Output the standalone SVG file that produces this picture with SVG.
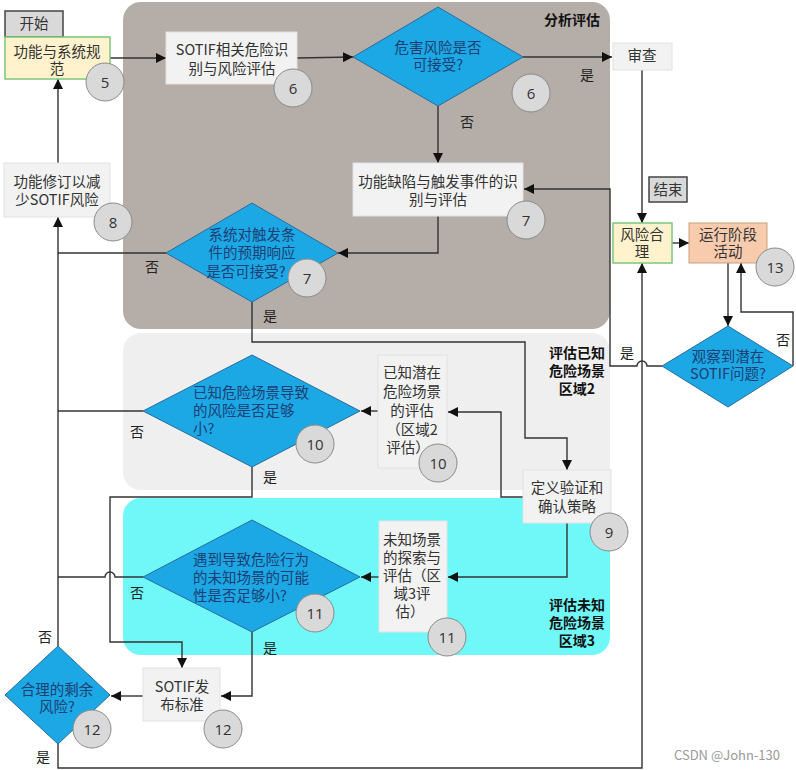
<svg xmlns="http://www.w3.org/2000/svg" width="796" height="770" viewBox="0 0 796 770">
<defs>
<marker id="ah" markerWidth="10" markerHeight="10" refX="10" refY="5" orient="auto" markerUnits="userSpaceOnUse">
<path d="M0,0 L10,5 L0,10 Z" fill="#111"/>
</marker>
<style>
text{font-family:"Noto Sans CJK SC","Liberation Sans",sans-serif;}
.t{font-size:14.5px;fill:#333;text-anchor:middle;}
.tl{font-size:14.5px;fill:#1f3e72;}
.td{font-size:14.5px;fill:#1f3e72;text-anchor:middle;}
.lab{font-size:14px;fill:#222;text-anchor:middle;}
.reg{font-size:14px;font-weight:bold;fill:#111;text-anchor:middle;}
.box{fill:#f2f2f2;stroke:#e2e2e2;stroke-width:1;}
.ybox{fill:#fff2cc;stroke:#7cc77c;stroke-width:1.5;}
.gbox{fill:#d9d9d9;stroke:#444;stroke-width:1.5;}
.dia{fill:#1ba8e5;stroke:#2a6c9c;stroke-width:1;}
.num circle{fill:#d9d9d9;stroke:#8a8a8a;stroke-width:1;}
.num text{font-family:"Open Sans","Liberation Sans",sans-serif;font-size:15px;fill:#333;text-anchor:middle;}
.c{fill:none;stroke:#333;stroke-width:1.4;}
.ca{fill:none;stroke:#333;stroke-width:1.4;marker-end:url(#ah);}
</style>
</defs>
<rect width="796" height="770" fill="#ffffff"/>

<!-- regions -->
<g id="region-analysis">
<rect x="123" y="2" width="487" height="327" rx="18" fill="#b5ada7"/>
<text class="reg" x="572" y="25">分析评估</text>
</g>
<g id="region-known">
<rect x="123" y="333" width="487" height="157" rx="18" fill="#efefef"/>
<text class="reg" x="577" y="358">评估已知</text>
<text class="reg" x="577" y="376">危险场景</text>
<text class="reg" x="577" y="394">区域2</text>
</g>
<g id="region-unknown">
<rect x="123" y="498" width="487" height="157" rx="18" fill="#70f8f8"/>
<text class="reg" x="577" y="610">评估未知</text>
<text class="reg" x="577" y="628">危险场景</text>
<text class="reg" x="577" y="646">区域3</text>
</g>

<!-- connectors -->
<g id="connectors">
<path class="ca" d="M110,58 H166"/>
<path class="ca" d="M297,58 L353,57"/>
<path class="ca" d="M523,57 H612"/>
<path class="ca" d="M438,106 V163"/>
<path class="ca" d="M438,216 V253 H338"/>
<path class="c" d="M166,253 H58"/>
<path class="ca" d="M58,646 V217"/>
<path class="ca" d="M58,163 V79"/>
<path class="ca" d="M252,302 V342 H525 V438 H567 V470"/>
<path class="ca" d="M662,366 H647 A5,5 0 0 0 637,366 H610 V189 H524"/>
<path class="ca" d="M642,70 V223"/>
<path class="ca" d="M672,243 H689"/>
<path class="ca" d="M728,263 V326"/>
<path class="ca" d="M793,366 V312 H741 V263"/>
<path class="ca" d="M58,744 V768 H642 V263"/>
<path class="ca" d="M523,497 H501 V412 H448"/>
<path class="ca" d="M378,411 H361"/>
<path class="c" d="M143,411 H58"/>
<path class="ca" d="M252,467 V497 H110 V642 H182 V668"/>
<path class="c" d="M143,577 H115 A5,5 0 0 0 105,577 H58"/>
<path class="ca" d="M567,523 V577 H448"/>
<path class="ca" d="M379,577 H361"/>
<path class="ca" d="M252,632 V696 H221"/>
<path class="ca" d="M143,696 H111"/>
<text class="lab" x="587" y="80">是</text>
<text class="lab" x="467" y="127">否</text>
<text class="lab" x="152" y="272">否</text>
<text class="lab" x="270" y="321">是</text>
<text class="lab" x="627" y="358">是</text>
<text class="lab" x="783" y="345">否</text>
<text class="lab" x="137" y="437">否</text>
<text class="lab" x="270" y="482">是</text>
<text class="lab" x="137" y="598">否</text>
<text class="lab" x="270" y="653">是</text>
<text class="lab" x="45" y="642">否</text>
<text class="lab" x="43" y="762">是</text>
</g>

<!-- nodes -->
<g id="start">
<rect class="gbox" x="5" y="11" width="58" height="26"/>
<text class="t" x="34" y="29">开始</text>
</g>
<g id="n5">
<rect class="ybox" x="5" y="37" width="105" height="42"/>
<text class="t" x="57" y="57">功能与系统规</text>
<text class="t" x="57" y="74">范</text>
<g class="num"><circle cx="105" cy="82" r="19"/><text x="105" y="87.5">5</text></g>
</g>
<g id="n6a">
<rect class="box" x="166" y="32" width="131" height="52"/>
<text class="t" x="232" y="55">SOTIF相关危险识</text>
<text class="t" x="232" y="74">别与风险评估</text>
<g class="num"><circle cx="293" cy="88" r="19"/><text x="293" y="93.5">6</text></g>
</g>
<g id="n6b">
<polygon class="dia" points="438,7 523,57 438,106 353,57"/>
<text class="td" x="438" y="53">危害风险是否</text>
<text class="td" x="438" y="70">可接受?</text>
<g class="num"><circle cx="531" cy="93" r="19"/><text x="531" y="98.5">6</text></g>
</g>
<g id="review">
<rect class="box" x="613" y="43" width="59" height="27"/>
<text class="t" x="642" y="61">审查</text>
</g>
<g id="n7a">
<rect class="box" x="353" y="163" width="170" height="53"/>
<text class="t" x="438" y="187">功能缺陷与触发事件的识</text>
<text class="t" x="438" y="205">别与评估</text>
<g class="num"><circle cx="526" cy="220" r="19"/><text x="526" y="225.5">7</text></g>
</g>
<g id="n7b">
<polygon class="dia" points="252,203 338,253 252,302 166,253"/>
<text class="td" x="252" y="240">系统对触发条</text>
<text class="td" x="252" y="258">件的预期响应</text>
<text class="td" x="246" y="277">是否可接受?</text>
<g class="num"><circle cx="307" cy="278" r="19"/><text x="307" y="283.5">7</text></g>
</g>
<g id="n8">
<rect class="box" x="4" y="163" width="106" height="54"/>
<text class="t" x="57" y="187">功能修订以减</text>
<text class="t" x="57" y="205">少SOTIF风险</text>
<g class="num"><circle cx="113" cy="222" r="19"/><text x="113" y="227.5">8</text></g>
</g>
<g id="end">
<rect class="gbox" x="649" y="177" width="38" height="25" stroke-width="2"/>
<text class="t" x="668" y="195">结束</text>
</g>
<g id="risk-ok">
<rect class="ybox" x="613" y="223" width="59" height="40"/>
<text class="t" x="642" y="240">风险合</text>
<text class="t" x="642" y="257">理</text>
</g>
<g id="n13">
<rect x="689" y="223" width="78" height="40" fill="#f8cbad" stroke="#c8a080" stroke-width="1"/>
<text class="t" x="728" y="240">运行阶段</text>
<text class="t" x="728" y="257">活动</text>
<g class="num"><circle cx="775" cy="267" r="19"/><text x="775" y="272.5">13</text></g>
</g>
<g id="observe">
<polygon class="dia" points="728,326 793,366 728,407 662,366"/>
<text class="td" x="728" y="362">观察到潜在</text>
<text class="td" x="728" y="379">SOTIF问题?</text>
</g>
<g id="n10a">
<rect class="box" x="378" y="355" width="69" height="113"/>
<text class="t" x="412" y="378">已知潜在</text>
<text class="t" x="412" y="397">危险场景</text>
<text class="t" x="412" y="416">的评估</text>
<text class="t" x="412" y="435">（区域2</text>
<text class="t" x="408" y="453">评估）</text>
<g class="num"><circle cx="438" cy="463" r="19"/><text x="438" y="468.5">10</text></g>
</g>
<g id="n10b">
<polygon class="dia" points="252,355 360,411 252,467 143,411"/>
<text class="tl" x="193" y="398">已知危险场景导致</text>
<text class="tl" x="193" y="416">的风险是否足够</text>
<text class="tl" x="193" y="434">小?</text>
<g class="num"><circle cx="315" cy="444" r="19"/><text x="315" y="449.5">10</text></g>
</g>
<g id="n9">
<rect class="box" x="523" y="470" width="88" height="53"/>
<text class="t" x="567" y="493">定义验证和</text>
<text class="t" x="567" y="512">确认策略</text>
<g class="num"><circle cx="609" cy="532" r="19"/><text x="609" y="537.5">9</text></g>
</g>
<g id="n11a">
<rect class="box" x="379" y="521" width="68" height="111"/>
<text class="t" x="412" y="545">未知场景</text>
<text class="t" x="412" y="563">的探索与</text>
<text class="t" x="412" y="581">评估（区</text>
<text class="t" x="412" y="599">域3评</text>
<text class="t" x="410" y="617">估）</text>
<g class="num"><circle cx="447" cy="637" r="19"/><text x="447" y="642.5">11</text></g>
</g>
<g id="n11b">
<polygon class="dia" points="252,520 360,577 252,632 143,577"/>
<text class="tl" x="193" y="565">遇到导致危险行为</text>
<text class="tl" x="193" y="583">的未知场景的可能</text>
<text class="tl" x="193" y="601">性是否足够小?</text>
<g class="num"><circle cx="315" cy="613" r="19"/><text x="315" y="618.5">11</text></g>
</g>
<g id="n12a">
<rect class="box" x="143" y="668" width="77" height="53"/>
<text class="t" x="182" y="692">SOTIF发</text>
<text class="t" x="182" y="710">布标准</text>
<g class="num"><circle cx="223" cy="729" r="19"/><text x="223" y="734.5">12</text></g>
</g>
<g id="n12b">
<polygon class="dia" points="58,646 110,695 58,744 5,695"/>
<text class="td" x="57" y="695">合理的剩余</text>
<text class="td" x="57" y="712">风险?</text>
<g class="num"><circle cx="92" cy="729" r="19"/><text x="92" y="734.5">12</text></g>
</g>
<text x="780" y="760" font-family="'Liberation Sans',sans-serif" font-size="13" fill="#9a9a9a" text-anchor="end">CSDN @John-130</text>
</svg>
